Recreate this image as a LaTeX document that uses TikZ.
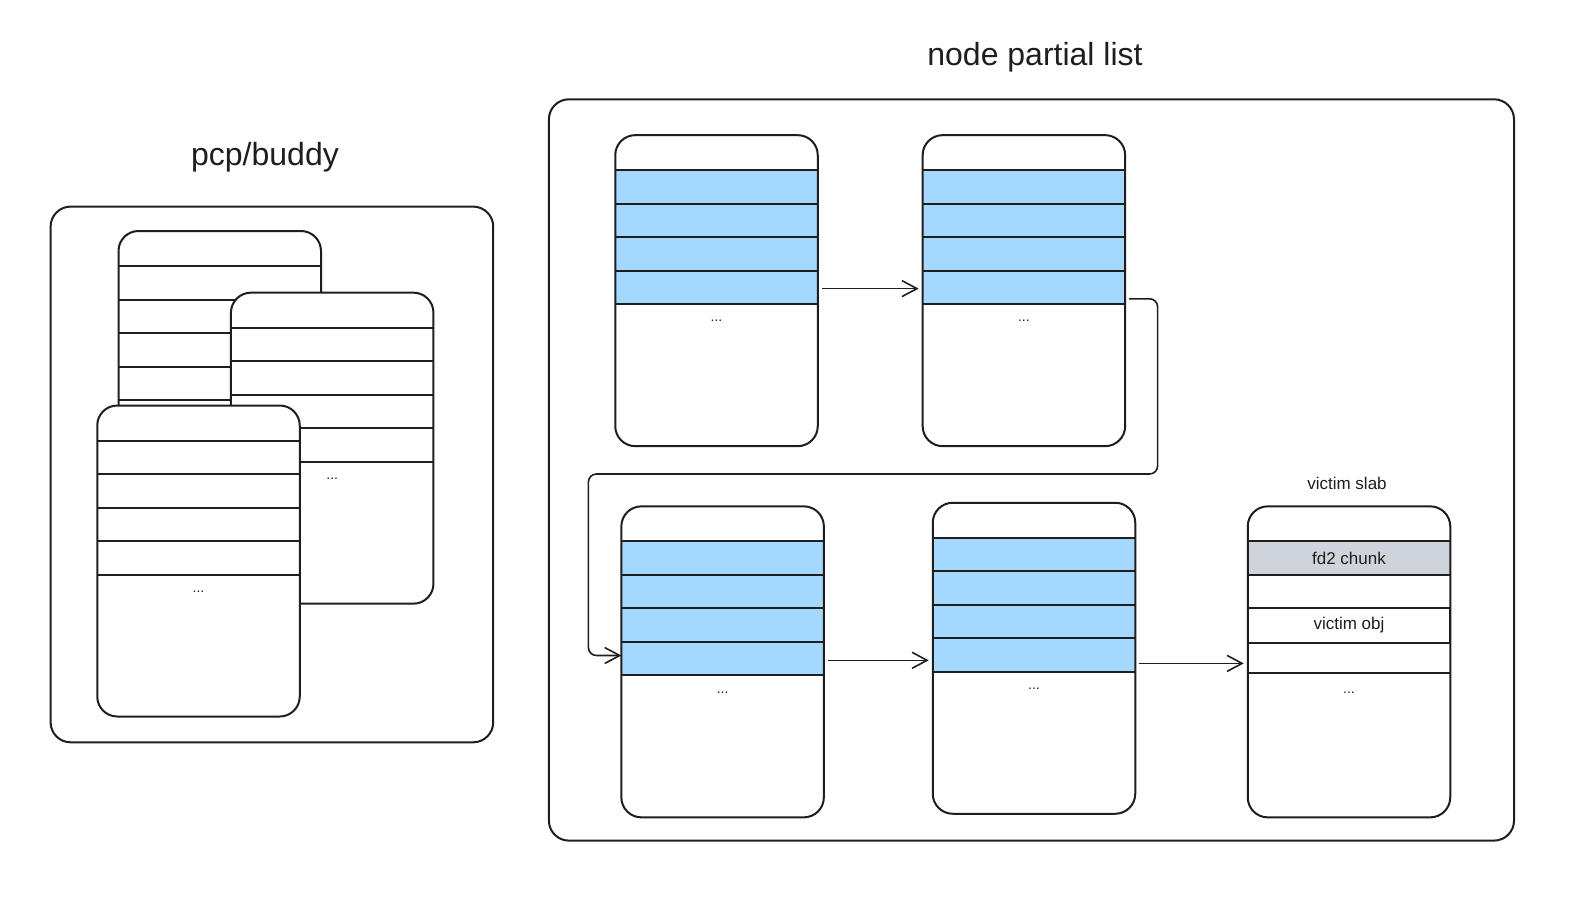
\documentclass[tikz,border=0pt]{standalone}
\usepackage{fontspec}
\setmainfont{Liberation Sans}
\usetikzlibrary{calc,arrows.meta}
\definecolor{ink}{HTML}{1E1E1E}
\definecolor{slabblue}{HTML}{A5D8FF}
\definecolor{chunkgray}{HTML}{CED4DA}
% one slab page: name, centre, fill of the object rows
\newcommand{\slab}[3]{%
  \node[cardfill] (#1) at (#2) {};
  \fill[#3] ($(#1.north west)+(0,35)$) rectangle ($(#1.north east)+(0,169)$);
  \foreach \r in {35,68.5,102,135.5,169}
    \draw[row] ($(#1.north west)+(0,\r)$) -- ($(#1.north east)+(0,\r)$);
  \node[dots] at ($(#1.north)+(0,186)$) {...};
  \node[cardline] at (#1) {};
}

\begin{document}
\begin{tikzpicture}[
      x=1pt, y=-1pt,
      cardfill/.style={rectangle, rounded corners=20pt, fill=white, minimum width=202.5pt, minimum height=311pt, outer sep=0pt, inner sep=0pt},
      cardline/.style={cardfill, fill=none, draw=ink, line width=2pt},
      row/.style={draw=ink, line width=2pt},
      outerbox/.style={rectangle, rounded corners=20pt, draw=ink, line width=2pt, outer sep=0pt, inner sep=0pt},
      title/.style={font=\fontsize{32}{38}\selectfont, text=ink},
      tag/.style={font=\fontsize{17}{20}\selectfont, text=ink},
      dots/.style={font=\fontsize{14}{16}\selectfont, text=ink},
      pointer/.style={draw=ink, line width=1.6pt, -{Straight Barb[length=15pt,width=16pt]}}
      ]
      \useasboundingbox (0,0) rectangle (1588,906);

      % pcp/buddy side
      \node[outerbox, minimum width=442.6pt, minimum height=535.7pt] (buddy) at (271.9,474.45) {};
      \node[title] (buddytitle) at (265,157) {pcp/buddy};
      \slab{back}{219.75,386.5}{white}
      \slab{mid}{332.2,448.15}{white}
      \slab{front}{198.5,561}{white}

      % node partial list side
      \node[outerbox, minimum width=965.1pt, minimum height=741.3pt] (partial) at (1031.45,469.95) {};
      \node[title] (partialtitle) at (1035,57.7) {node partial list};
      \slab{a}{716.5,290.65}{slabblue}
      \slab{b}{1023.9,290.65}{slabblue}
      \slab{c}{722.6,661.85}{slabblue}
      \slab{d}{1034,658.25}{slabblue}

      % victim slab
      \node[cardfill] (e) at (1349,661.85) {};
      \fill[chunkgray] ($(e.north west)+(0,34.4)$) rectangle ($(e.north east)+(0,68.9)$);
      \foreach \r in {34.4,68.9,167.1}
        \draw[row] ($(e.north west)+(0,\r)$) -- ($(e.north east)+(0,\r)$);
      \node[tag] (chunk) at ($(e.north)+(0,51.6)$) {fd2 chunk};
      \draw[row] ($(e.north west)+(0,101.3)$) rectangle ($(e.north east)+(0,136.7)$);
      \node[tag] (victimobj) at ($(e.north)+(0,119)$) {victim obj};
      \node[dots] at ($(e.north)+(0,186)$) {...};
      \node[cardline] at (e) {};
      \node[tag] (victimtitle) at (1347,483) {victim slab};

      % list links
      \draw[pointer, shorten <=4pt, shorten >=4pt] (a.east |- 0,288.6) -- (b.west |- 0,288.6);
      \draw[pointer, rounded corners=8pt, shorten <=4pt] (b.east |- 0,298.8) -| (1157.6,474) -| (588.4,655.5) -- (c.west |- 0,655.5);
      \draw[pointer, shorten <=4pt, shorten >=4pt] (c.east |- 0,660.3) -- (d.west |- 0,660.3);
      \draw[pointer, shorten <=4pt, shorten >=4pt] (d.east |- 0,663.4) -- (e.west |- 0,663.4);
    \end{tikzpicture}
\end{document}
